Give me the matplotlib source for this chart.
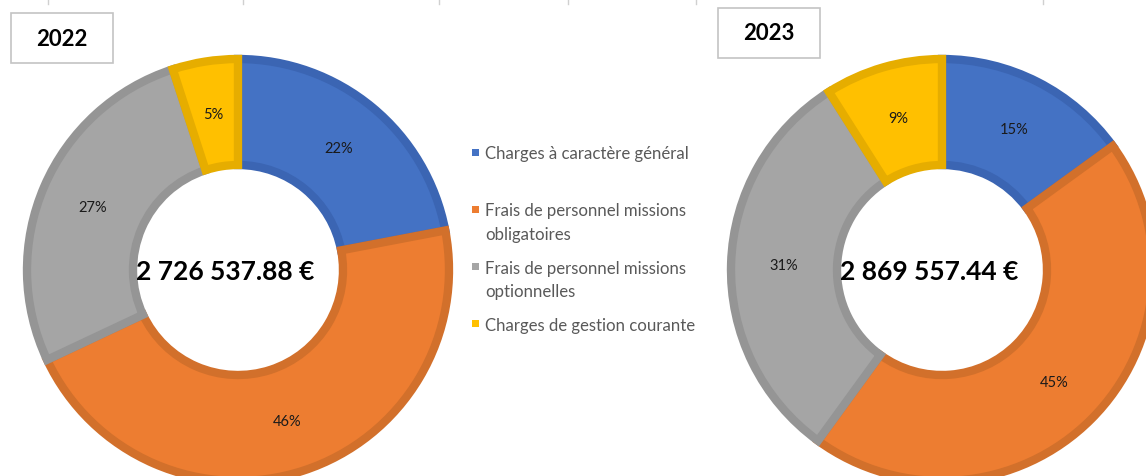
import matplotlib.pyplot as plt
from matplotlib.patches import Rectangle

plt.rcParams['font.family'] = ['Lato', 'DejaVu Sans']

# data
categories = ['Charges à caractère général',
              'Frais de personnel missions\nobligatoires',
              'Frais de personnel missions\noptionnelles',
              'Charges de gestion courante']
years = ['2022', '2023']
shares_2022 = [22, 46, 27, 5]
shares_2023 = [15, 45, 31, 9]
totals = ['2 726 537.88 €', '2 869 557.44 €']

face_cols = ['#4472C4', '#ED7D31', '#A5A5A5', '#FFC000']
edge_cols = ['#3B65B3', '#D2702B', '#959595', '#E6AD00']

W, H = 1146, 477
fig = plt.figure(figsize=(W / 100, H / 100), dpi=100)
ax = fig.add_axes([0, 0, 1, 1])

# layout in pixel units (y up)
centers = [(238, H - 271), (942, H - 271)]
R = 211
ring = 106

for shares, (cx, cy), total in zip([shares_2022, shares_2023], centers, totals):
    wedges, txts, pcts = ax.pie(shares, colors=face_cols, startangle=90, counterclock=False,
                                center=(cx, cy), radius=R,
                                wedgeprops=dict(width=ring, linewidth=6, joinstyle='miter'),
                                autopct=lambda p: f'{p:.0f}%', pctdistance=0.75,
                                textprops=dict(fontsize=10.5, color='#1a1a1a'))
    for w, ec in zip(wedges, edge_cols):
        w.set_edgecolor(ec)
        w.set_clip_path(w)
    ax.text(cx - 13, cy - 1, total, ha='center', va='center', fontsize=19,
            fontweight='bold', color='black')

# year boxes
boxes = [(11, 14, 102, 50), (718, 9, 102, 50)]
for (bx, by, bw, bh), yr in zip(boxes, years):
    ax.add_patch(Rectangle((bx, H - by - bh), bw, bh, facecolor='white',
                           edgecolor='#C4C4C4', linewidth=1.2))
    ax.text(bx + bw / 2, H - by - bh / 2, yr, ha='center', va='center',
            fontsize=16, fontweight='bold', color='black')

# small grid ticks at the top of the sheet
for gx in [48, 243, 439, 568, 696, 1043]:
    ax.plot([gx, gx], [H, H - 5], color='#D0D0D0', linewidth=1)

# legend
for i, (lab, c) in enumerate(zip(categories, face_cols)):
    ly = H - (153 + i * 57.3)
    ax.add_patch(Rectangle((472, ly - 3.5), 7, 7, facecolor=c, edgecolor='none'))
    ax.text(485, ly + 7, lab, ha='left', va='top', fontsize=12.1,
            color='#595959', linespacing=1.6)

ax.set_xlim(0, W)
ax.set_ylim(0, H)
ax.set_aspect('auto')
ax.axis('off')

fig.savefig('out.png', dpi=100)
